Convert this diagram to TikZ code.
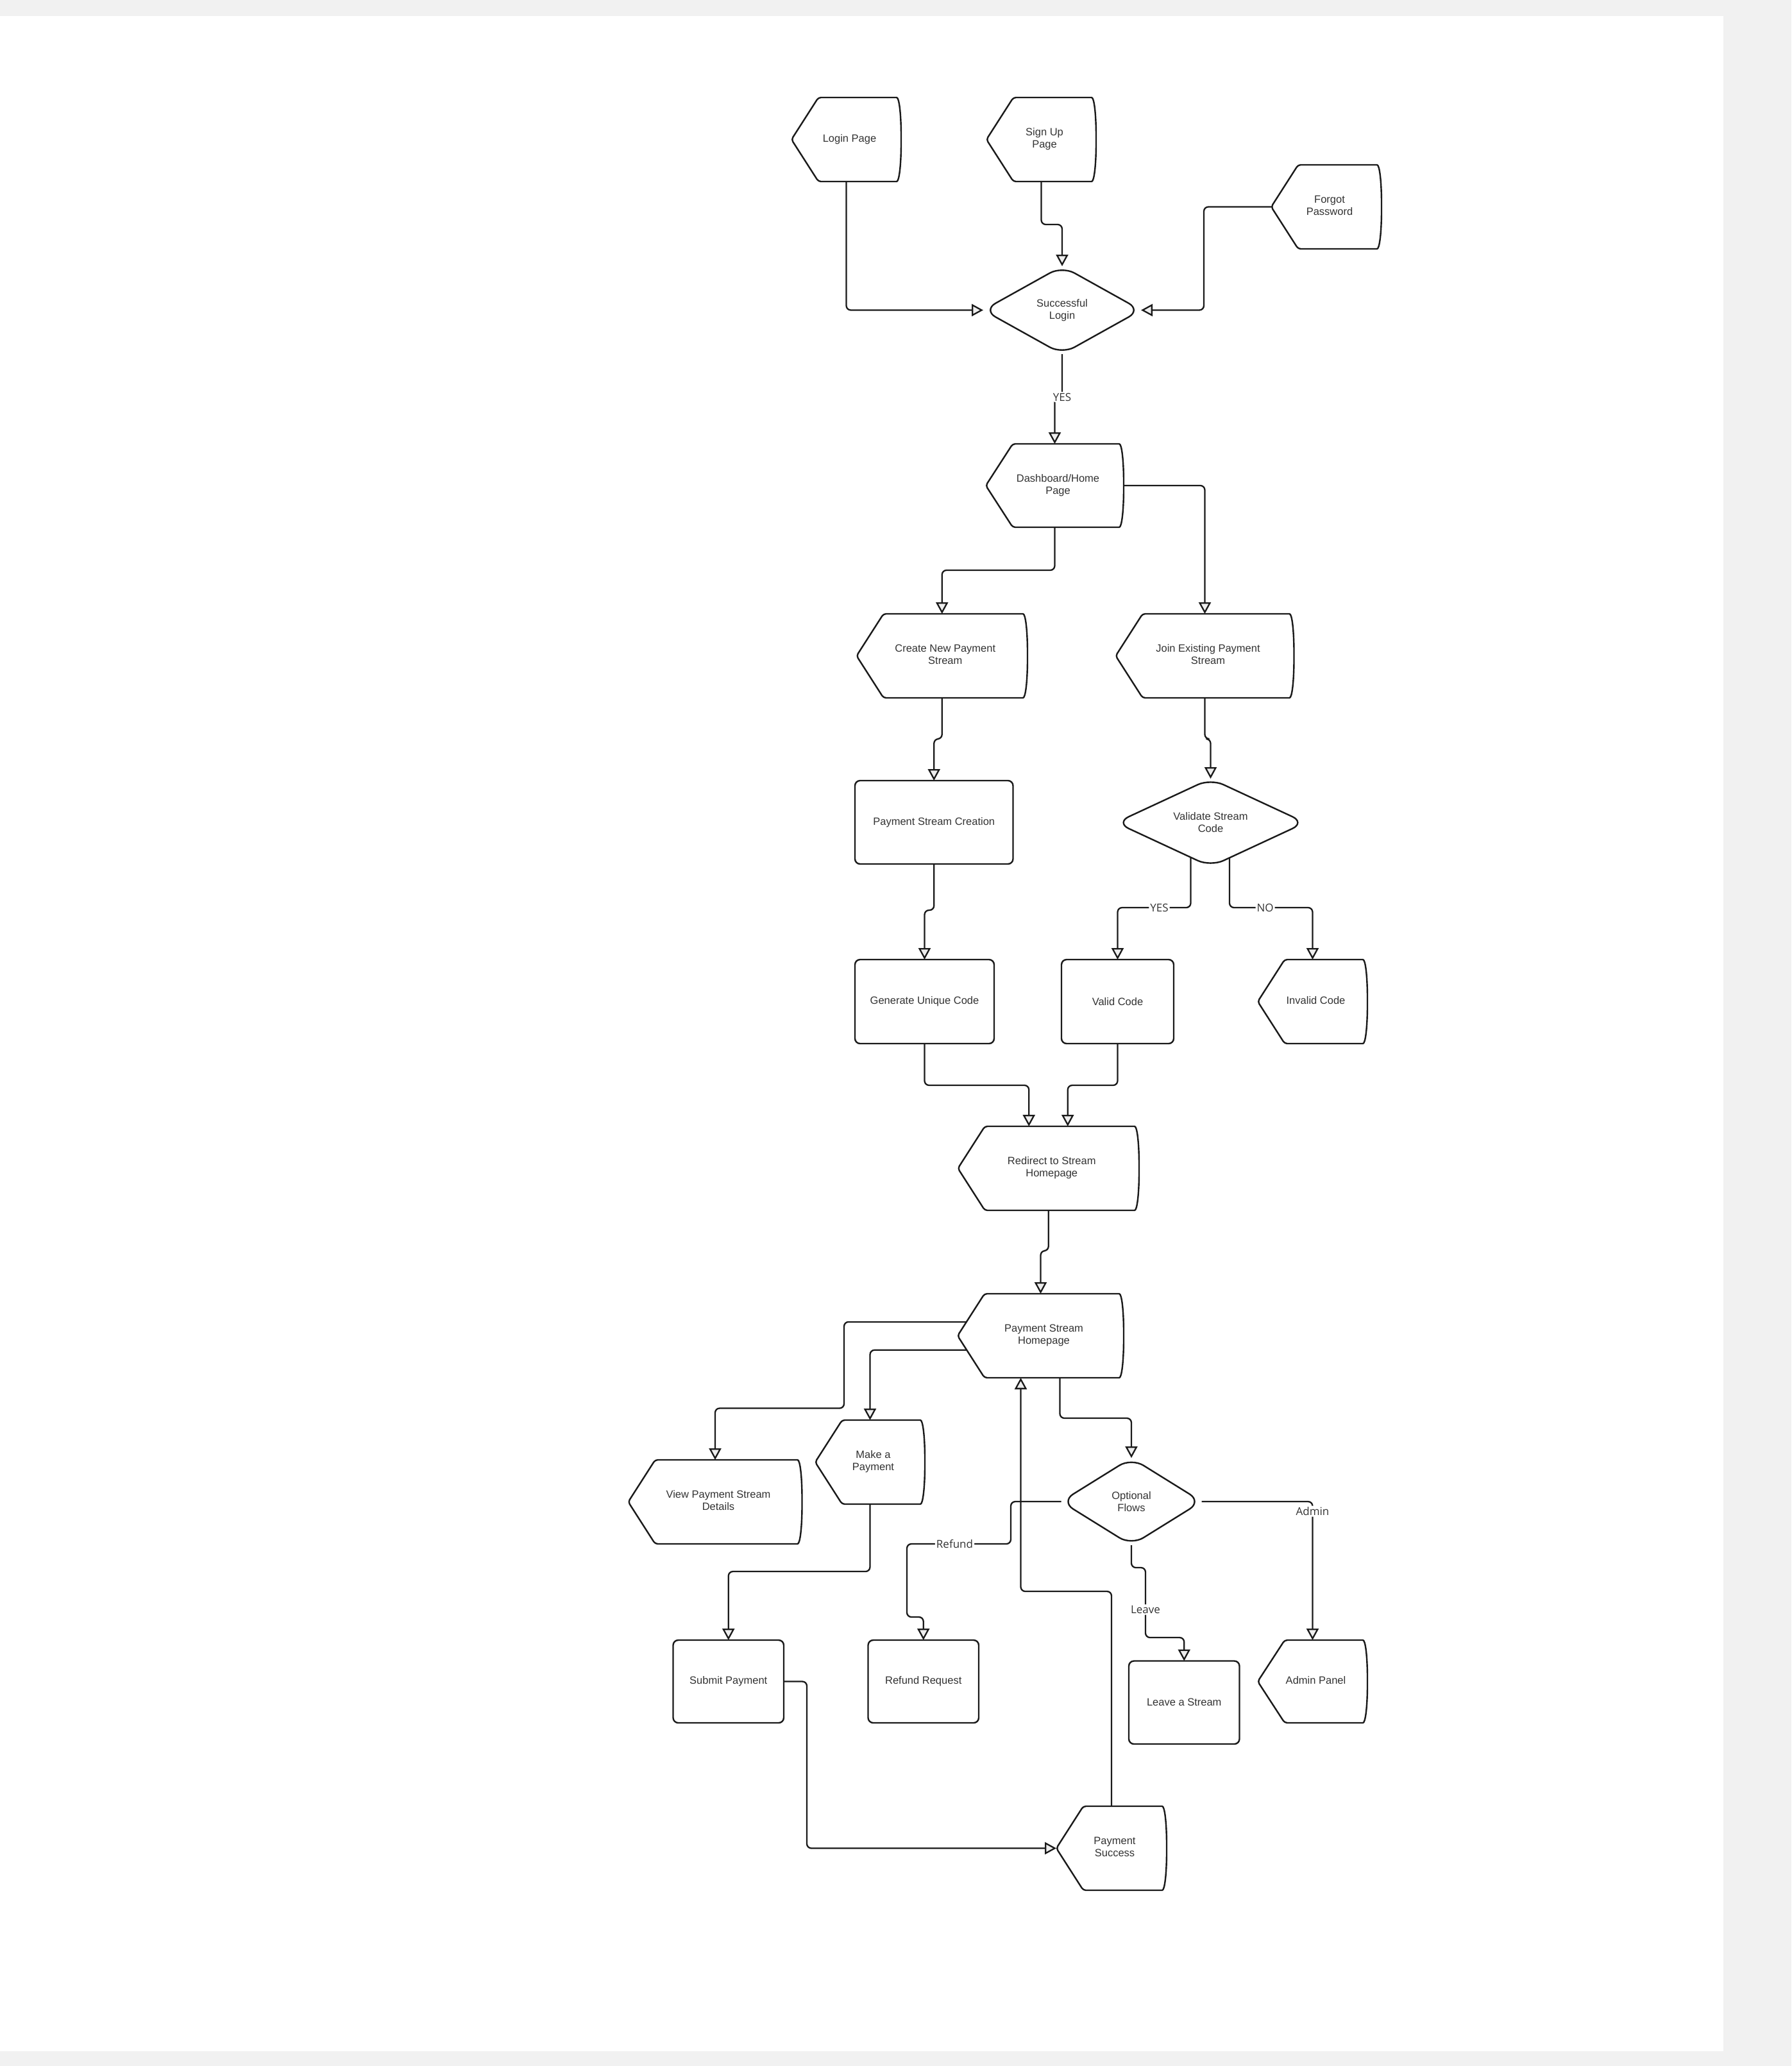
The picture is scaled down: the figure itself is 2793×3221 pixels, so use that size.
\documentclass[tikz,border=0pt]{standalone}
\usepackage{fontspec}
\setmainfont{Liberation Sans}
\newfontfamily\lblfont{Open Sans}
\usetikzlibrary{arrows.meta,shapes.geometric,calc}
\definecolor{pagegray}{HTML}{F1F1F1}
\definecolor{ink}{HTML}{1A1A1A}
\definecolor{txt}{HTML}{333333}
\definecolor{tipfill}{HTML}{EEEEEE}

\tikzset{
  shapeline/.style={draw=ink, line width=2.4pt, fill=white, line join=round},
  boxtext/.style={font=\fontsize{16.5}{19}\selectfont, text=txt},
  hidden/.style={rectangle, inner sep=0pt, outer sep=0pt, boxtext},
  rbox/.style={rectangle, draw=ink, line width=2.4pt, fill=white, rounded corners=8pt, inner sep=0pt, outer sep=0pt, boxtext, align=center},
  dbox/.style={diamond, draw=ink, line width=2.4pt, fill=white, rounded corners=22pt, inner sep=0pt, outer sep=0pt, boxtext, align=center},
  conn/.style={draw=ink, line width=2.3pt, rounded corners=7pt, -{Triangle[length=18pt,width=19pt,fill=tipfill]}},
  lbl/.style={font=\lblfont\fontsize{17}{19}\selectfont, text=txt, fill=white, inner sep=2pt},
}

\newcommand\dtext[1]{\hspace*{10pt}\raisebox{-3pt}{\begin{tabular}{@{}c@{}}#1\end{tabular}}}
% name, L, T, R, B, text
\newcommand\dispnode[6]{%
  \draw[shapeline, rounded corners=4pt] (#2,{(#3+#5)/2}) -- ({#2+42},#3) -- ({#4-11},#3)
     .. controls ({#4-3},#3) and (#4,{#3+0.2*(#5-#3)}) .. (#4,{(#3+#5)/2})
     .. controls (#4,{#5-0.2*(#5-#3)}) and ({#4-3},#5) .. ({#4-11},#5)
     -- ({#2+42},#5) -- cycle;
  \node[hidden, minimum width={#4-#2}, minimum height={#5-#3}] (#1) at ({(#2+#4)/2},{(#3+#5)/2}) {\dtext{#6}};
  \coordinate (#1-tl) at ({#2+42},#3);
  \coordinate (#1-bl) at ({#2+42},#5);
}
% name, L, T, R, B, text
\newcommand\recnode[6]{%
  \node[rbox, minimum width={#4-#2}, minimum height={#5-#3}] (#1) at ({(#2+#4)/2},{(#3+#5)/2}) {#6};
}
% name, cx, cy, W, H, aspect, text
\newcommand\dianode[7]{%
  \node[dbox, minimum width=#4, minimum height=#5, aspect=#6] (#1) at (#2,#3) {#7};
}

\begin{document}
\begin{tikzpicture}[x=1pt, y=-1pt]
\useasboundingbox (0,0) rectangle (2793,3221);
\fill[pagegray] (0,0) rectangle (2793,3221);
\fill[white] (0,25) rectangle (2687,3198);

% ---------- nodes ----------
\dispnode{login}{1234}{152}{1405}{283}{Login Page}
\dispnode{signup}{1538}{152}{1709}{283}{Sign Up\\Page}
\dispnode{forgot}{1982}{257}{2154}{388}{Forgot\\Password}
\dianode{succ}{1656}{483.5}{246}{137}{1.8}{Successful\\Login}
\dispnode{dash}{1537}{692}{1752}{822}{Dashboard/Home\\Page}
\dispnode{create}{1335.5}{957}{1602}{1088}{Create New Payment\\Stream}
\dispnode{join}{1739.5}{957}{2017.5}{1088}{Join Existing Payment\\Stream}
\recnode{psc}{1333}{1217}{1579.5}{1347}{Payment Stream Creation}
\dianode{val}{1887.5}{1282.5}{295}{137}{2.15}{Validate Stream\\Code}
\recnode{gen}{1333}{1496}{1550}{1627}{Generate Unique Code}
\recnode{valid}{1655}{1496}{1830}{1627}{Valid Code}
\dispnode{invalid}{1961}{1496}{2132}{1627}{Invalid Code}
\dispnode{redirect}{1493.5}{1756}{1776}{1887}{Redirect to Stream\\Homepage}
\dispnode{psh}{1493}{2017}{1752}{2148}{Payment Stream\\Homepage}
\dispnode{view}{979.5}{2276}{1250.5}{2407}{View Payment Stream\\Details}
\dispnode{make}{1271}{2214}{1442}{2345}{Make a\\Payment}
\dianode{opt}{1764}{2341}{219}{136}{1.6}{Optional\\Flows}
\recnode{submit}{1049.5}{2557}{1222}{2686}{Submit Payment}
\recnode{refund}{1353.5}{2557}{1526}{2686}{Refund Request}
\recnode{leave}{1760}{2589.5}{1932.5}{2719}{Leave a Stream}
\dispnode{admin}{1961}{2557}{2132}{2686}{Admin Panel}
\dispnode{ps}{1647}{2816}{1819}{2947}{Payment\\Success}

% ---------- helper coordinates ----------
\coordinate (vyes) at ($(val.west)!0.79!(val.south)$);
\coordinate (vno) at ($(val.south)!0.2!(val.east)$);
\coordinate (rdin1) at ($(redirect.north)+(-30.5,0)$);
\coordinate (rdin2) at ($(redirect.north)+(30,0)$);
\coordinate (pshout1) at ($(psh.west)!0.33!(psh-tl)$);
\coordinate (pshout2) at ($(psh.west)!0.34!(psh-bl)$);
\coordinate (pshout3) at ($(psh.south)+(30,0)$);
\coordinate (pshin) at ($(psh.south)+(-31,0)$);

% ---------- connectors ----------
\draw[conn] (login.south) |- (succ.west);
\draw[conn] (signup.south) -- ++(0,67) -| (succ.north);
\draw[conn] (forgot.west) -- (1877,322.5) |- (succ.east);
\draw[conn] (succ.south) -- ++(0,67) node[lbl]{YES} -| (dash.north);
\draw[conn] (dash.south) -- ++(0,67) -| (create.north);
\draw[conn] (dash.east) -| (join.north);
\draw[conn] (create.south) -- ++(0,64) -| (psc.north);
\draw[conn] (join.south) -- ++(0,64) -| (val.north);
\draw[conn] (psc.south) -- ++(0,72) -| (gen.north);
\draw[conn] (vyes) -- (1856.5,1415) -- node[lbl,pos=0.43]{YES} (1742.5,1415) -- (valid.north);
\draw[conn] (vno) -- (1917,1415) -- node[lbl,pos=0.43]{NO} (2046.5,1415) -- (invalid.north);
\draw[conn] (gen.south) -- ++(0,65) -| (rdin1);
\draw[conn] (valid.south) -- ++(0,65) -| (rdin2);
\draw[conn] (redirect.south) -- ++(0,63) -| (psh.north);
\draw[conn] (pshout1) -| (1316,2195.5) -| (view.north);
\draw[conn] (pshout2) -| (make.north);
\draw[conn] (pshout3) -- ++(0,63) -| (opt.north);
\draw[conn] (ps.north) -- ++(0,-335) -| (pshin);
\draw[conn] (make.south) -- ++(0,105) -| (submit.north);
\draw[conn] (opt.west) -| (1576,2407) -- node[lbl,pos=0.54]{Refund} (1414,2407) -- (1414,2521) -| (refund.north);
\draw[conn] (opt.south) -- (1764,2444) -- (1786,2444) -- node[lbl,pos=0.6]{Leave} (1786,2553) -| (leave.north);
\draw[conn] (opt.east) -| node[lbl,pos=0.535]{Admin} (admin.north);
\draw[conn] (submit.east) -- (1258,2621.5) |- (ps.west);
\end{tikzpicture}
\end{document}
